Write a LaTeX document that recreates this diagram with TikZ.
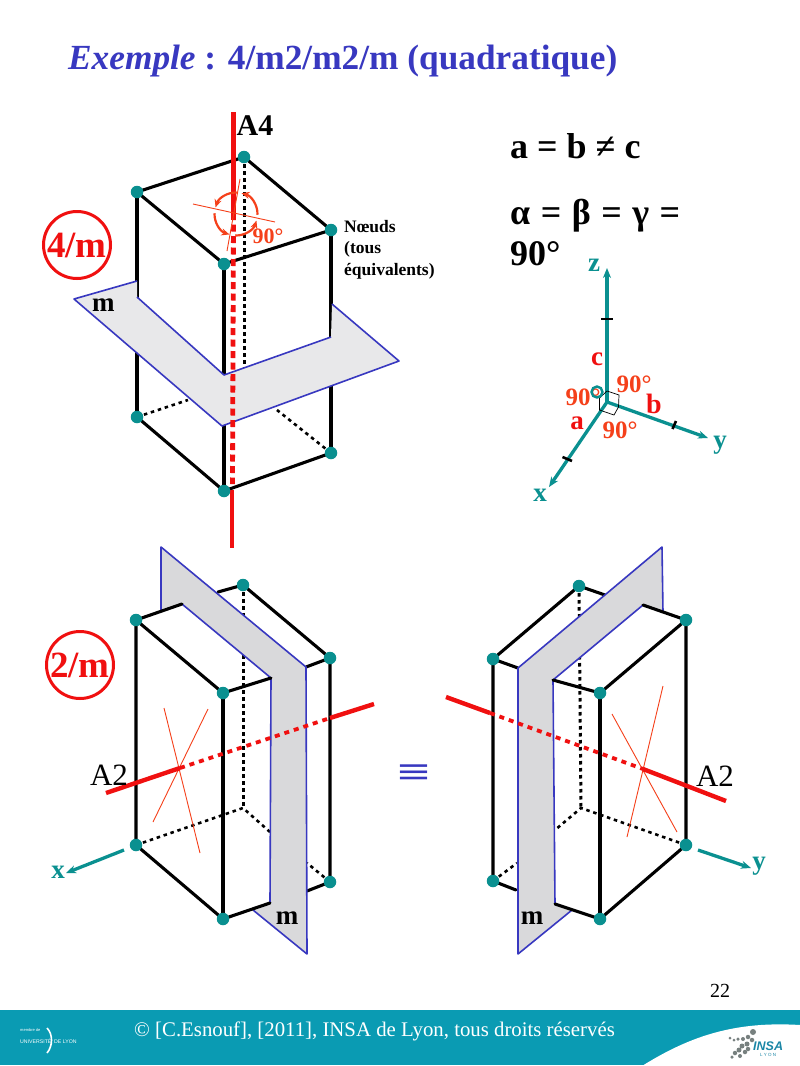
\documentclass[tikz,border=0pt]{standalone}
\usepackage{fontspec}
\usepackage{graphicx}
\setmainfont{Liberation Serif}
\setsansfont{Liberation Sans}
\usetikzlibrary{arrows.meta}
\definecolor{teal1}{HTML}{0A9090}
\definecolor{redA}{HTML}{F01010}
\definecolor{orangeA}{HTML}{F5401A}
\definecolor{blueA}{HTML}{3838C0}
\definecolor{planeA}{HTML}{E8E8EA}
\definecolor{planeB}{HTML}{D9D9DB}
\definecolor{band}{HTML}{0A9BB3}
\definecolor{logoA}{HTML}{1A86A6}
\definecolor{logoB}{HTML}{77807F}
\tikzset{
 x=1pt,y=-1pt,
 lbl/.style={inner sep=0pt,font=\fontsize{#1}{#1}\selectfont\bfseries},
 reglbl/.style={inner sep=0pt,font=\fontsize{#1}{#1}\selectfont},
 dotnode/.style={circle,fill=teal1,inner sep=0pt,minimum size=12.5pt},
 edge1/.style={black,line width=3.1pt,line cap=round},
 dots1/.style={black,line width=3pt,dash pattern=on 3.5pt off 3.5pt},
 dots2/.style={black,line width=2.6pt,dash pattern=on 3.5pt off 3.8pt},
 axred/.style={redA,line width=4.4pt},
 axdotsA/.style={redA,line width=4.8pt,dash pattern=on 7pt off 4.5pt},
 axdotsB/.style={redA,line width=3.8pt,dash pattern=on 5pt off 5pt},
 planeline/.style={blueA,line width=1.6pt,line join=round},
 thinred/.style={orangeA,line width=0.9pt},
 axis1/.style={teal1,line width=3.3pt,-{Stealth[length=10pt,width=8pt]}},
 ring/.style={circle,draw=redA,line width=3pt,minimum size=67pt,inner sep=0pt,text=redA,font=\fontsize{37}{37}\selectfont\bfseries},
 rot/.style={orangeA,line width=2.2pt,-{Stealth[length=8pt,width=7pt]}},
 logotx/.style={inner sep=0pt,text=white,font=\fontsize{#1}{#1}\selectfont\sffamily},
 logodot/.style={circle,fill=logoB,inner sep=0pt,minimum size=#1},
}
\begin{document}
\begin{tikzpicture}
\useasboundingbox (0,0) rectangle (800,1066);
\fill[white] (0,0) rectangle (800,1066);

% title
\node[lbl=35.3,text=blueA,anchor=base west] (title) at (68,69) {\textit{Exemple} : 4/m2/m2/m (quadratique)};

% ===== upper cell =====
\coordinate (tb) at (244,157);
\coordinate (tl) at (137,192);
\coordinate (tr) at (331,230);
\coordinate (tf) at (224,264);
\coordinate (bl) at (137,417);
\coordinate (br) at (331,453);
\coordinate (bf) at (224,491);
\draw[dots1] (tb) -- (244,368);
\draw[edge1] (tl) -- (tb) -- (tr) -- (tf) -- cycle;
\draw[edge1] (tl) -- (137,297);
\draw[edge1] (137,350) -- (bl);
\draw[edge1] (tf) -- (224,375);
\draw[edge1] (224,424) -- (bf);
\draw[edge1] (tr) -- (331,337);
\draw[edge1] (331,385) -- (br);
\draw[edge1] (bl) -- (bf) -- (br);
\draw[dots2] (bl) -- (188,400);
\draw[dots2] (br) -- (277,410);
\fill[planeA] (137,281) -- (74,299) -- (222,426) -- (399,361) -- (332,304) -- (331,337) -- (224,375) -- (137,297) -- cycle;
\draw[planeline] (137,281) -- (74,299) -- (222,426) -- (399,361) -- (332,304);
\draw[planeline] (137,297) -- (224,375) -- (331,337);
% A4 axis
\coordinate (a4t) at (233.5,112);
\coordinate (a4m) at (233.5,213);
\coordinate (a4d) at (232,490);
\coordinate (a4b) at (232,548);
\draw[axred] (a4t) -- (a4m);
\draw[axdotsA] (a4m) -- (232.5,484);
\draw[axred] (a4d) -- (a4b);
% rotation mark
\coordinate (rc) at (236,214);
\draw[thinred] (193,204) -- (275,222);
\draw[thinred] (240,179) -- (227,251);
\draw[rot] ([shift={(-88:21.5)}]rc) arc (-88:-162:21.5);
\draw[rot] ([shift={(-178:21.5)}]rc) arc (-178:-252:21.5);
\draw[rot] ([shift={(-268:21.5)}]rc) arc (-268:-342:21.5);
\draw[rot] ([shift={(-358:21.5)}]rc) arc (-358:-435:21.5);
\node[lbl=22,text=orangeA] (r90) at (268,236) {90°};
\foreach \n in {tb,tl,tr,tf,bl,br,bf} \node[dotnode] at (\n) {};
\node[ring] (c4m) at (77,245) {4/m};
\node[lbl=27,anchor=base west] (m1) at (92,311) {m};
\node[lbl=30] (a4) at (255,126) {A4};
\node[lbl=17.5,anchor=base west] (n1) at (344,232) {Nœuds};
\node[lbl=17.5,anchor=base west] (n2) at (344,253) {(tous};
\node[lbl=17.5,anchor=base west] (n3) at (344,275) {équivalents)};

% ===== parameters =====
\node[lbl=36,anchor=base west] (abc) at (510,158) {a = b ≠ c};
\node[lbl=36,anchor=base west] (abg) at (510,224) {α\hspace{1.5pt} = \hspace{1.5pt}β\hspace{1.5pt} = \hspace{1.5pt}γ\hspace{1.5pt} =};
\node[lbl=36,anchor=base west] (ninety) at (510,265) {90°};

% ===== axes =====
\coordinate (o) at (607,402);
\coordinate (oz) at (607,268);
\coordinate (oy) at (708,438);
\coordinate (ox) at (549,487);
\draw[axis1] (o) -- (oz);
\draw[axis1] (o) -- (oy);
\draw[axis1] (o) -- (ox);
\draw[black,line width=2.6pt] (601,319) -- (613,319);
\draw[black,line width=2.6pt] (672.5,429) -- (676,421);
\draw[black,line width=2.6pt] (562.5,457) -- (572,461);
\draw[black,line width=.7pt] (607,391) -- (619,395) -- (618.5,407) -- (614,415) -- (599.5,410) -- (599.5,398) -- cycle;
\node[lbl=27,text=teal1] (lz) at (594,265) {z};
\node[lbl=27,text=teal1] (ly) at (720,445) {y};
\node[lbl=27,text=teal1] (lx) at (540,495) {x};
\node[lbl=27,text=redA] (lc) at (597,359) {c};
\node[lbl=28,text=redA] (lb) at (654,404) {b};
\node[lbl=27,text=redA] (la) at (577,423) {a};
\node[lbl=25,text=orangeA] (d1) at (634,384) {90°};
\node[lbl=25,text=orangeA] (d2) at (583,397) {90°};
\node[lbl=25,text=orangeA] (d3) at (620,430) {90°};
\node[circle,draw=teal1,line width=2.4pt,minimum size=11pt,inner sep=0pt] (dring) at (597,392) {};

% ===== lower left =====
\coordinate (Ltb) at (243,585);
\coordinate (Ltl) at (136,620);
\coordinate (Ltr) at (330,658);
\coordinate (Ltf) at (223,693);
\coordinate (Lbb) at (243,808);
\coordinate (Lbl) at (136,845);
\coordinate (Lbr) at (330,882);
\coordinate (Lbf) at (223,919);
\draw[dots1] (Ltb) -- (Lbb);
\draw[dots2] (Lbl) -- (Lbb) -- (270,832);
\draw[dots2] (Lbr) -- (307,863);
\draw[edge1] (218,592) -- (Ltb) -- (Ltr) -- (306,667);
\draw[edge1] (Ltr) -- (Lbr) -- (307,891);
\fill[planeB] (161,547) -- (306,667) -- (307,954) -- (253,910) -- (270,903) -- (271,678) -- (182,604) -- (161,611) -- cycle;
\draw[planeline] (161,611) -- (161,547) -- (306,667) -- (307,954) -- (253,910);
\draw[planeline] (182,604) -- (271,678) -- (270,903);
\draw[edge1] (182,604) -- (Ltl) -- (Ltf) -- (271,678);
\draw[edge1] (Ltl) -- (Lbl) -- (Lbf) -- (270,903);
\draw[edge1] (Ltf) -- (Lbf);
\draw[thinred] (164,708) -- (200,853);
\draw[thinred] (208,709) -- (153,822);
\coordinate (La) at (106,793);
\coordinate (Lb) at (180,768);
\coordinate (Lc) at (330,718);
\coordinate (Ld) at (374,704);
\draw[axred] (La) -- (Lb);
\draw[axdotsB] (Lb) -- (Lc);
\draw[axred] (Lc) -- (Ld);
\foreach \n in {Ltb,Ltl,Ltr,Ltf,Lbl,Lbr,Lbf} \node[dotnode] at (\n) {};
\node[ring] (c2m) at (80,665) {2/m};
\coordinate (Lx1) at (124,850);
\coordinate (Lx2) at (66,873);
\draw[axis1] (Lx1) -- (Lx2);
\node[lbl=27,text=teal1] (Llx) at (58,872) {x};
\node[reglbl=31] (LA2) at (109,775) {A2};
\node[lbl=27] (Lm) at (287,918) {m};

% ===== equivalence =====
\node[lbl=46,text=blueA] (eq) at (414,775) {\scalebox{1.27}[0.8]{≡}};

% ===== lower right =====
\coordinate (Rtb) at (579,586);
\coordinate (Rtr) at (686,620);
\coordinate (Rtl) at (493,659);
\coordinate (Rtf) at (600,693);
\coordinate (Rbb) at (581,808);
\coordinate (Rbr) at (686,845);
\coordinate (Rbl) at (493,881);
\coordinate (Rbf) at (600,919);
\draw[dots1] (Rtb) -- (Rbb);
\draw[dots2] (Rbr) -- (Rbb) -- (555,830);
\draw[dots2] (Rbl) -- (517,863);
\draw[edge1] (605,595) -- (Rtb) -- (Rtl) -- (518,668);
\draw[edge1] (Rtl) -- (Rbl) -- (516,890);
\fill[planeB] (662,547) -- (518,668) -- (518,954) -- (572,910) -- (555,904) -- (553,680) -- (643,605) -- (663,612) -- cycle;
\draw[planeline] (663,612) -- (662,547) -- (518,668) -- (518,954) -- (572,910);
\draw[planeline] (643,605) -- (553,680) -- (555,904);
\draw[edge1] (643,605) -- (Rtr) -- (Rtf) -- (553,680);
\draw[edge1] (Rtr) -- (Rbr) -- (Rbf) -- (555,904);
\draw[edge1] (Rtf) -- (Rbf);
\draw[thinred] (612,714) -- (677,832);
\draw[thinred] (663,686) -- (627,837);
\coordinate (Ra) at (446,697);
\coordinate (Rb) at (490,713);
\coordinate (Rc) at (643,769);
\coordinate (Rd) at (726,801);
\draw[axred] (Ra) -- (Rb);
\draw[axdotsB] (Rb) -- (Rc);
\draw[axred] (Rc) -- (Rd);
\foreach \n in {Rtb,Rtr,Rtl,Rtf,Rbr,Rbl,Rbf} \node[dotnode] at (\n) {};
\coordinate (Ry1) at (698,850);
\coordinate (Ry2) at (751,868);
\draw[axis1] (Ry1) -- (Ry2);
\node[lbl=27,text=teal1] (Rly) at (759,866) {y};
\node[reglbl=31] (RA2) at (715,776) {A2};
\node[lbl=27] (Rm) at (532,918) {m};

% ===== footer =====
\node[reglbl=20,anchor=base] (pg) at (720,997) {22};
\fill[band] (0,1010) rectangle (800,1065);
\fill[white] (800,1025) .. controls (735,1021) and (690,1036) .. (642,1066) -- (800,1066) -- cycle;
\node[reglbl=20.8,text=white,anchor=base west] (copy) at (134,1036) {© [C.Esnouf], [2011], INSA de Lyon, tous droits réservés};
% university logo
\node[logotx=4,anchor=base west] (ul1) at (20,1031) {membre de};
\node[logotx=5.2,anchor=base west] (ul2) at (20,1043) {UNIVERSITÉ};
\node[logotx=5.2,anchor=base west] (ul3) at (54,1043) {DE LYON};
\draw[white,line width=1.6pt] (47,1028) .. controls (53,1034) and (53,1046) .. (47,1053);
% INSA logo
\node[inner sep=0pt,anchor=base west,text=logoA,font=\fontsize{12.5}{12.5}\selectfont\sffamily\bfseries\itshape] (insa) at (753,1050) {INSA};
\node[inner sep=0pt,anchor=base west,text=logoA,font=\fontsize{4.5}{4.5}\selectfont\sffamily] (lyon) at (760,1056) {L Y O N};
\foreach \a/\b/\s in {753/1032/6,748/1037/4.5,752/1040/4.5,743/1039/4,747/1044/5,738/1039/3.5,730/1038/3,734/1040/3,742/1046/5,748/1049/4.5,739/1050/5,745/1052/4.5,735/1053/4.5,740/1056/4,732/1057/3.5}
  \node[logodot=\s pt] at (\a,\b) {};
\end{tikzpicture}
\end{document}
